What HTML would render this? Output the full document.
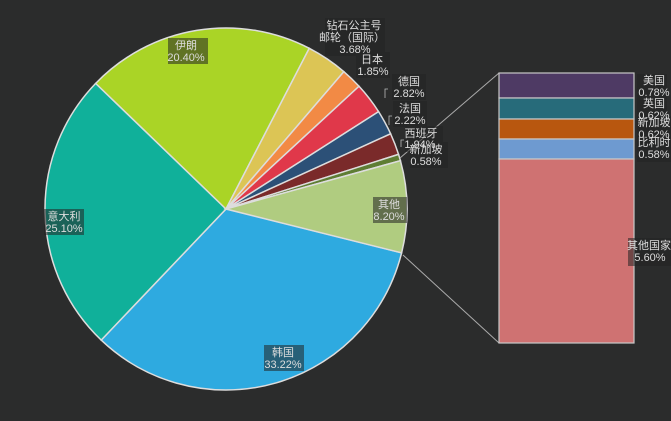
<!DOCTYPE html>
<html><head><meta charset="utf-8">
<style>
html,body{margin:0;padding:0;background:#2b2c2c;}
svg{display:block;}
text{font-family:"Liberation Sans","Noto Sans CJK SC",sans-serif;font-size:11px;fill:#dddddd;}
</style></head>
<body>
<svg id="s" width="671" height="421" viewBox="0 0 671 421" xmlns="http://www.w3.org/2000/svg">
<rect width="671" height="421" fill="#2b2c2c"/>
<g id="pie"></g>
<line x1="400" y1="158" x2="499" y2="73" stroke="#aaaaaa" stroke-width="1"/>
<line x1="403" y1="255" x2="499" y2="343" stroke="#aaaaaa" stroke-width="1"/>
<g stroke="#c8c8c8" stroke-width="1.2">
<rect x="499" y="73" width="135" height="25" fill="#4e3a64"/>
<rect x="499" y="98" width="135" height="21" fill="#276b7a"/>
<rect x="499" y="119" width="135" height="20" fill="#b8570f"/>
<rect x="499" y="139" width="135" height="20" fill="#6e9ad0"/>
<rect x="499" y="159" width="135" height="184" fill="#cf7272"/>
</g>
<g fill="#232323" opacity="0.55">
<rect x="168" y="38" width="40" height="26"/>
<rect x="44" y="209" width="40" height="26"/>
<rect x="264" y="345" width="40" height="26"/>
<rect x="373" y="197" width="34" height="26"/>
<rect x="325" y="18" width="60" height="38"/>
<rect x="356" y="52" width="34" height="26"/>
<rect x="392" y="74" width="34" height="26"/>
<rect x="393" y="101" width="34" height="26"/>
<rect x="405" y="126" width="38" height="26"/>
<rect x="410" y="142" width="38" height="26"/>
<rect x="637" y="74" width="30" height="26"/>
<rect x="637" y="97" width="30" height="26"/>
<rect x="637" y="116" width="34" height="26"/>
<rect x="637" y="136" width="34" height="26"/>
<rect x="628" y="238" width="43" height="28"/>
</g>
<g text-anchor="middle">
<text x="186" y="49">伊朗</text><text x="186" y="61">20.40%</text>
<text x="64" y="220">意大利</text><text x="64" y="232">25.10%</text>
<text x="283" y="356">韩国</text><text x="283" y="368">33.22%</text>
<text x="389" y="208">其他</text><text x="389" y="220">8.20%</text>
<text x="354" y="29">钻石公主号</text><text x="352" y="41">邮轮（国际）</text><text x="355" y="53">3.68%</text>
<text x="372" y="63">日本</text><text x="373" y="75">1.85%</text>
<text x="409" y="85">德国</text><text x="409" y="97">2.82%</text>
<text x="410" y="112">法国</text><text x="410" y="124">2.22%</text>
<text x="421" y="137">西班牙</text><text x="420" y="148">1.94%</text>
<text x="426" y="153">新加坡</text><text x="426" y="165">0.58%</text>
<text x="654" y="84">美国</text><text x="654" y="96">0.78%</text>
<text x="654" y="107">英国</text><text x="654" y="119">0.62%</text>
<text x="654" y="126">新加坡</text><text x="654" y="138">0.62%</text>
<text x="654" y="146">比利时</text><text x="654" y="158">0.58%</text>
<text x="649" y="249">其他国家</text><text x="650" y="261">5.60%</text>
</g>
<g stroke="#bbbbbb" fill="none" stroke-width="0.8">
<path d="M388 89 l-3 0 l0 9"/><path d="M392 116 l-3 0 l0 9"/><path d="M404 140 l-3 0 l0 7"/>
</g>
</svg>
<script>
var cx=226,cy=209,r=181;
var d=[[33.22,"#2eaae0"],[25.10,"#10b09a"],[20.40,"#aad426"],[3.68,"#dcc555"],[1.85,"#f28a45"],[2.82,"#e0384a"],[2.22,"#2c5077"],[1.94,"#7a2a2a"],[0.58,"#5e7d33"],[8.20,"#b0cc80"]];
var a=14*Math.PI/180,g=document.getElementById("pie"),h="";
d.forEach(function(s){var b=a+s[0]/100*2*Math.PI;
var x1=cx+r*Math.cos(a),y1=cy+r*Math.sin(a),x2=cx+r*Math.cos(b),y2=cy+r*Math.sin(b);
h+='<path d="M'+cx+' '+cy+' L'+x1.toFixed(2)+' '+y1.toFixed(2)+' A'+r+' '+r+' 0 '+((b-a)>Math.PI?1:0)+' 1 '+x2.toFixed(2)+' '+y2.toFixed(2)+' Z" fill="'+s[1]+'" stroke="#dddddd" stroke-width="1.5"/>';a=b;});
g.innerHTML=h;
</script>
</body></html>
